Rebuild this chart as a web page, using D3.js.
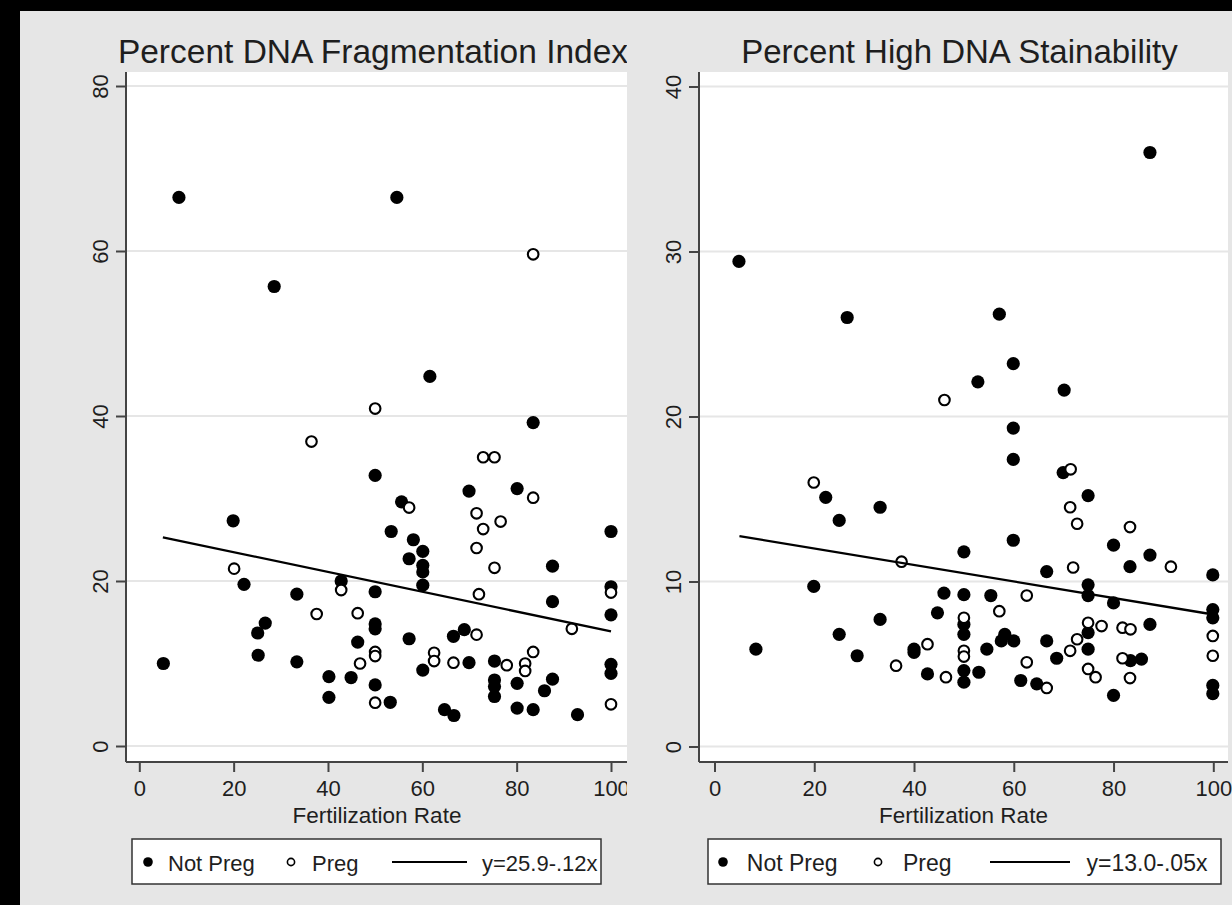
<!DOCTYPE html>
<html>
<head>
<meta charset="utf-8">
<script src="https://cdn.jsdelivr.net/npm/d3@7/dist/d3.min.js"></script>
<style>
  html, body { margin: 0; padding: 0; background: #000; }
  svg { display: block; }
  text { font-family: 'Liberation Sans', Arial, sans-serif; fill: #1e1e1e; }
</style>
</head>
<body>
<div id="chart"></div>
<script>
'use strict';

// Percent DNA Fragmentation Index (x = fertilization rate, y = %DFI)
const dfiNotPreg = [
  [8.4, 66.5], [54.6, 66.5], [28.6, 55.7], [61.6, 44.8], [83.5, 39.2], [50, 32.8],
  [55.6, 29.6], [19.9, 27.3], [53.4, 26.0], [58.1, 25.0], [57.2, 22.7], [60.1, 23.6],
  [60.1, 21.9], [60.1, 21.1], [60.1, 19.5], [22.2, 19.6], [42.8, 20.0], [50, 18.7],
  [33.4, 18.4], [26.7, 14.9], [50, 14.8], [50, 14.2], [25.1, 13.7], [57.2, 13.0],
  [46.3, 12.6], [5.1, 10.0], [25.2, 11.0], [33.4, 10.2], [40.2, 8.4], [44.9, 8.3],
  [50, 7.4], [40.2, 5.9], [53.2, 5.3], [69.9, 30.9], [80.1, 31.2], [100, 26.0],
  [87.6, 21.8], [100, 19.3], [87.6, 17.5], [100, 15.9], [66.6, 13.3], [68.9, 14.1],
  [60.1, 9.2], [69.9, 10.1], [75.3, 10.3], [100, 9.9], [100, 8.8], [75.3, 8.0],
  [75.3, 7.2], [75.3, 6.0], [80.1, 7.6], [87.6, 8.1], [85.9, 6.7], [64.7, 4.4],
  [66.7, 3.7], [80.1, 4.6], [83.5, 4.4], [92.9, 3.8]
];
const dfiPreg = [
  [50, 40.9], [36.5, 36.9], [83.5, 59.6], [72.9, 35.0], [75.3, 35.0], [57.2, 28.9],
  [20.1, 21.5], [42.8, 18.9], [37.6, 16.0], [46.3, 16.1], [50, 11.4], [50, 10.9],
  [46.8, 10.0], [50, 5.25], [83.5, 30.1], [71.5, 28.2], [76.6, 27.2], [72.9, 26.3],
  [71.5, 24.0], [75.3, 21.6], [100, 18.6], [72, 18.4], [91.7, 14.2], [71.5, 13.5],
  [62.5, 11.3], [62.5, 10.3], [66.6, 10.1], [77.9, 9.8], [81.8, 10.0], [81.8, 9.1],
  [83.5, 11.4], [100, 5.05]
];

// Percent High DNA Stainability
const hdsNotPreg = [
  [4.9, 29.4], [26.6, 26.0], [52.8, 22.1], [87.3, 36.0], [57.1, 26.2], [59.9, 23.2],
  [70.1, 21.6], [59.9, 19.3], [22.3, 15.1], [33.2, 14.5], [25.0, 13.7], [50, 11.8],
  [19.9, 9.7], [46, 9.3], [50, 9.2], [44.7, 8.1], [33.2, 7.7], [50, 7.4], [25, 6.8],
  [50, 6.8], [8.3, 5.9], [40, 5.9], [40, 5.7], [28.6, 5.5], [42.7, 4.4], [50, 4.6],
  [50, 3.9], [53, 4.5], [59.9, 17.4], [69.9, 16.6], [74.9, 15.2], [59.9, 12.5],
  [80, 12.2], [87.3, 11.6], [83.3, 10.9], [66.6, 10.6], [99.9, 10.4], [74.9, 9.8],
  [74.9, 9.15], [55.4, 9.15], [80, 8.7], [99.9, 8.3], [99.9, 7.8], [87.3, 7.4],
  [74.9, 6.9], [57.5, 6.4], [58.2, 6.8], [60, 6.4], [66.6, 6.4], [54.6, 5.9],
  [74.9, 5.9], [68.6, 5.35], [83.4, 5.2], [85.6, 5.3], [61.4, 4.0], [64.6, 3.8],
  [80, 3.1], [99.9, 3.7], [99.9, 3.2]
];
const hdsPreg = [
  [46.1, 21.0], [19.9, 16.0], [37.5, 11.2], [50, 7.8], [42.7, 6.2], [50, 5.8],
  [50, 5.45], [36.4, 4.9], [46.4, 4.2], [71.4, 16.8], [71.3, 14.5], [72.7, 13.5],
  [83.3, 13.3], [91.5, 10.9], [71.9, 10.85], [62.6, 9.15], [57.1, 8.2], [74.9, 7.5],
  [77.6, 7.3], [81.8, 7.2], [83.4, 7.1], [72.7, 6.5], [99.9, 6.7], [71.3, 5.8],
  [62.6, 5.1], [81.8, 5.35], [99.9, 5.5], [74.9, 4.7], [76.4, 4.2], [83.3, 4.15],
  [66.6, 3.55]
];

const titles = ['Percent DNA Fragmentation Index', 'Percent High DNA Stainability'];
const xTitle = 'Fertilization Rate';
const xTicks = [0, 20, 40, 60, 80, 100];
const dfiTicks = [0, 20, 40, 60, 80];
const hdsTicks = [0, 10, 20, 30, 40];
const legendLabels = ['Not Preg', 'Preg'];
const fitLabels = ['y=25.9-.12x', 'y=13.0-.05x'];
// intercept, slope of the fitted line
const dfiFit = [25.9, -0.12];
const hdsFit = [13.0, -0.05];
const fitRange = [5, 100];

const W = 1232, H = 905;

const svg = d3.select('#chart')
  .append('svg')
  .attr('width', W)
  .attr('height', H);

svg.append('rect').attr('width', W).attr('height', H).attr('fill', '#000');
svg.append('rect')
  .attr('x', 20).attr('y', 11)
  .attr('width', W - 20).attr('height', H - 11)
  .attr('fill', '#e6e6e6');

svg.append('clipPath').attr('id', 'clip-left')
  .append('rect').attr('x', 0).attr('y', 0).attr('width', 627).attr('height', H);

const panels = [
  {
    title: titles[0], notPreg: dfiNotPreg, preg: dfiPreg, fit: dfiFit, fitLabel: fitLabels[0],
    yTicks: dfiTicks, yMax: 80, titleSize: 33.5, legendSize: 22,
    box: { x0: 126, x1: 628, y0: 72, y1: 762 },
    xRange: [139.3, 611], yRange: [746, 86],
    legend: { x: 132, w: 469, dot: 16, notPreg: 36, open: 159, preg: 180, line: [260, 335], fitText: 350 },
    clip: 'url(#clip-left)'
  },
  {
    title: titles[1], notPreg: hdsNotPreg, preg: hdsPreg, fit: hdsFit, fitLabel: fitLabels[1],
    yTicks: hdsTicks, yMax: 40, titleSize: 33, legendSize: 23,
    box: { x0: 699, x1: 1228, y0: 72, y1: 762 },
    xRange: [714.5, 1213.3], yRange: [746.5, 86.5],
    legend: { x: 708, w: 513, dot: 15, notPreg: 38.8, open: 170, preg: 195, line: [282, 362], fitText: 378.6 },
    clip: null
  }
];

panels.forEach(p => {
  const g = svg.append('g').attr('clip-path', p.clip);
  const b = p.box;

  const x = d3.scaleLinear().domain([0, 100]).range(p.xRange);
  const y = d3.scaleLinear().domain([0, p.yMax]).range(p.yRange);

  // plot region
  g.append('rect')
    .attr('x', b.x0).attr('y', b.y0)
    .attr('width', b.x1 - b.x0).attr('height', b.y1 - b.y0)
    .attr('fill', '#fff');

  // gridlines
  g.append('g').selectAll('line')
    .data(p.yTicks)
    .enter()
    .append('line')
    .attr('x1', b.x0).attr('x2', b.x1)
    .attr('y1', d => y(d)).attr('y2', d => y(d))
    .attr('stroke', '#e6e6e6')
    .attr('stroke-width', 2);

  // title
  g.append('text')
    .attr('x', (b.x0 + b.x1) / 2 - 4)
    .attr('y', 63)
    .attr('text-anchor', 'middle')
    .style('font-size', p.titleSize + 'px')
    .text(p.title);

  // y axis
  const yAxis = d3.axisLeft(y).tickValues(p.yTicks).tickSize(10).tickPadding(6).tickFormat(d3.format('d'));
  const ya = g.append('g')
    .attr('transform', `translate(${b.x0}, 0)`)
    .call(yAxis);
  ya.select('.domain').attr('d', `M0,${b.y0}V${b.y1}`).attr('stroke', '#444').attr('stroke-width', 2);
  ya.selectAll('.tick line').attr('stroke', '#444').attr('stroke-width', 2);
  ya.selectAll('.tick text')
    .attr('x', null).attr('dy', null)
    .attr('text-anchor', 'middle')
    .attr('transform', 'translate(-26, 0) rotate(-90) translate(0, 8)')
    .style('font-size', '22px')
    .style('font-family', "'Liberation Sans', Arial, sans-serif")
    .attr('fill', '#1e1e1e');

  // x axis
  const xAxis = d3.axisBottom(x).tickValues(xTicks).tickSize(10).tickPadding(6).tickFormat(d3.format('d'));
  const xa = g.append('g')
    .attr('transform', `translate(0, ${b.y1})`)
    .call(xAxis);
  xa.select('.domain').attr('d', `M${b.x0},0H${b.x1}`).attr('stroke', '#444').attr('stroke-width', 2);
  xa.selectAll('.tick line').attr('stroke', '#444').attr('stroke-width', 2);
  xa.selectAll('.tick text')
    .attr('y', 34).attr('dy', null)
    .style('font-size', '22px')
    .style('font-family', "'Liberation Sans', Arial, sans-serif")
    .attr('fill', '#1e1e1e');

  g.append('text')
    .attr('x', (b.x0 + b.x1) / 2)
    .attr('y', 823)
    .attr('text-anchor', 'middle')
    .style('font-size', '22.5px')
    .text(xTitle);

  // markers
  g.append('g').selectAll('circle')
    .data(p.notPreg)
    .enter()
    .append('circle')
    .attr('cx', d => x(d[0]))
    .attr('cy', d => y(d[1]))
    .attr('r', 6.6)
    .attr('fill', '#000');

  g.append('g').selectAll('circle')
    .data(p.preg)
    .enter()
    .append('circle')
    .attr('cx', d => x(d[0]))
    .attr('cy', d => y(d[1]))
    .attr('r', 5.3)
    .attr('fill', '#fff')
    .attr('stroke', '#000')
    .attr('stroke-width', 2.1);

  // fitted line
  g.append('line')
    .attr('x1', x(fitRange[0])).attr('y1', y(p.fit[0] + p.fit[1] * fitRange[0]))
    .attr('x2', x(fitRange[1])).attr('y2', y(p.fit[0] + p.fit[1] * fitRange[1]))
    .attr('stroke', '#000')
    .attr('stroke-width', 2.3);

  // legend
  const L = p.legend;
  const fs = p.legendSize + 'px';
  const lg = g.append('g').attr('transform', `translate(${L.x}, 839)`);
  lg.append('rect')
    .attr('width', L.w).attr('height', 45)
    .attr('fill', '#fff')
    .attr('stroke', '#333')
    .attr('stroke-width', 1.5);
  lg.append('circle').attr('cx', L.dot).attr('cy', 23).attr('r', 4.8).attr('fill', '#000');
  lg.append('text').attr('x', L.notPreg).attr('y', 32).style('font-size', fs).text(legendLabels[0]);
  lg.append('circle').attr('cx', L.open).attr('cy', 23).attr('r', 3.6)
    .attr('fill', '#fff').attr('stroke', '#000').attr('stroke-width', 1.6);
  lg.append('text').attr('x', L.preg).attr('y', 32).style('font-size', fs).text(legendLabels[1]);
  lg.append('line')
    .attr('x1', L.line[0]).attr('x2', L.line[1])
    .attr('y1', 23).attr('y2', 23)
    .attr('stroke', '#000').attr('stroke-width', 2);
  lg.append('text').attr('x', L.fitText).attr('y', 32).style('font-size', fs).text(p.fitLabel);
});
</script>
</body>
</html>
